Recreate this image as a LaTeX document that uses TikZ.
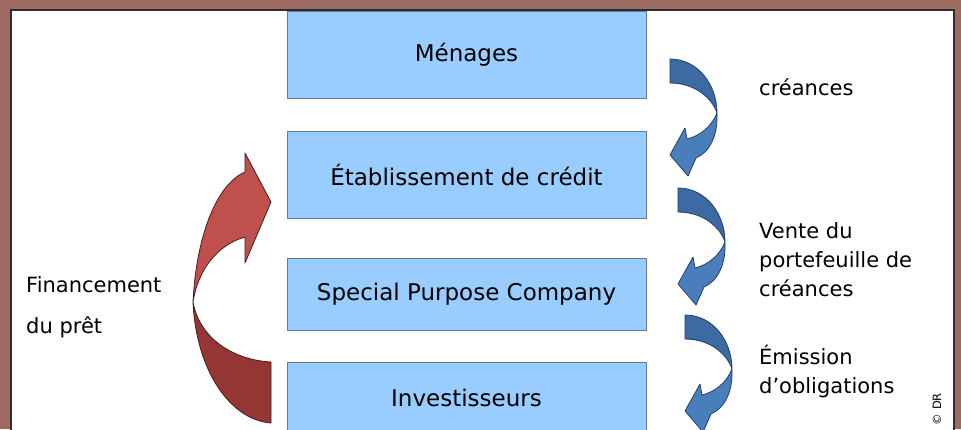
\documentclass[tikz,border=0pt]{standalone}
\usepackage{fontspec}
\setmainfont{DejaVu Sans}
\usetikzlibrary{positioning}
\definecolor{framebrown}{HTML}{9E6B62}
\definecolor{panelline}{HTML}{2E2E2E}
\definecolor{boxfill}{HTML}{99CCFF}
\definecolor{boxline}{HTML}{5E7C98}
\definecolor{redlight}{HTML}{C0504D}
\definecolor{reddark}{HTML}{943634}
\definecolor{redline}{HTML}{4A1C1B}
\definecolor{bluedark}{HTML}{3C6AA3}
\definecolor{bluelight}{HTML}{4A7EBB}
\definecolor{blueline}{HTML}{21406A}
\tikzset{
    box/.style={draw=boxline, fill=boxfill, line width=1pt, minimum width=359pt, inner sep=0pt, font=\fontsize{23}{28}\selectfont},
    side/.style={anchor=west, align=left, inner sep=0pt, font=\fontsize{21}{29}\selectfont},
    bandline/.style={line width=0.8pt, line join=round},
    downarrow/.pic={
        \filldraw[bandline, draw=blueline, fill=bluedark] (0,0) .. controls (28,0) and (47,26) .. (47,54) .. controls (42,39) and (25,24) .. (0,24) -- cycle;
        \filldraw[bandline, draw=blueline, fill=bluelight] (47,54) .. controls (48,76) and (40,93) .. (26,99) -- (18,117) -- (0,96) -- (15,69) -- (17,80) .. controls (30,77) and (42,67) .. (47,54) -- cycle;
    }
}
\begin{document}
\begin{tikzpicture}[x=1pt, y=-1pt]
    \useasboundingbox (0,0) rectangle (961,429);
    \fill[framebrown] (0,0) rectangle (961,429);
    \draw[panelline, fill=white, line width=1.5pt] (11,10) rectangle (954,445);

    \node[box, minimum height=87pt] (menages) at (466.5,54.5) {Ménages};
    \node[box, minimum height=87pt] (credit) at (466.5,174.5) {Établissement de crédit};
    \node[box, minimum height=72pt] (spc) at (466.5,294) {Special Purpose Company};
    \node[box, minimum height=72pt] (invest) at (466.5,398) {Investisseurs};

    \pic at (670,59) {downarrow};
    \pic at (678,188) {downarrow};
    \pic at (685,315) {downarrow};

    \filldraw[bandline, draw=redline, fill=reddark] (193,302) .. controls (196,370) and (230,420) .. (271,423) -- (271,362) .. controls (235,360) and (200,340) .. (193,302) -- cycle;
    \filldraw[bandline, draw=redline, fill=redlight] (193,302) .. controls (196,240) and (215,185) .. (245,172) -- (245,153) -- (271,202) -- (245,263) -- (245,237) .. controls (217,245) and (198,270) .. (193,302) -- cycle;

    \node[side] (creances) at (759,87) {créances};
    \node[side] (vente) at (759,259.5) {Vente du\\portefeuille de\\créances};
    \node[side] (emission) at (759,371.5) {Émission\\d’obligations};
    \node[side, font=\fontsize{21}{41}\selectfont] (financement) at (26,307.5) {Financement\\du prêt};
    \node[rotate=90, inner sep=0pt, font=\fontsize{11.5}{14}\selectfont] (dr) at (937,409) {© DR};
\end{tikzpicture}
\end{document}
